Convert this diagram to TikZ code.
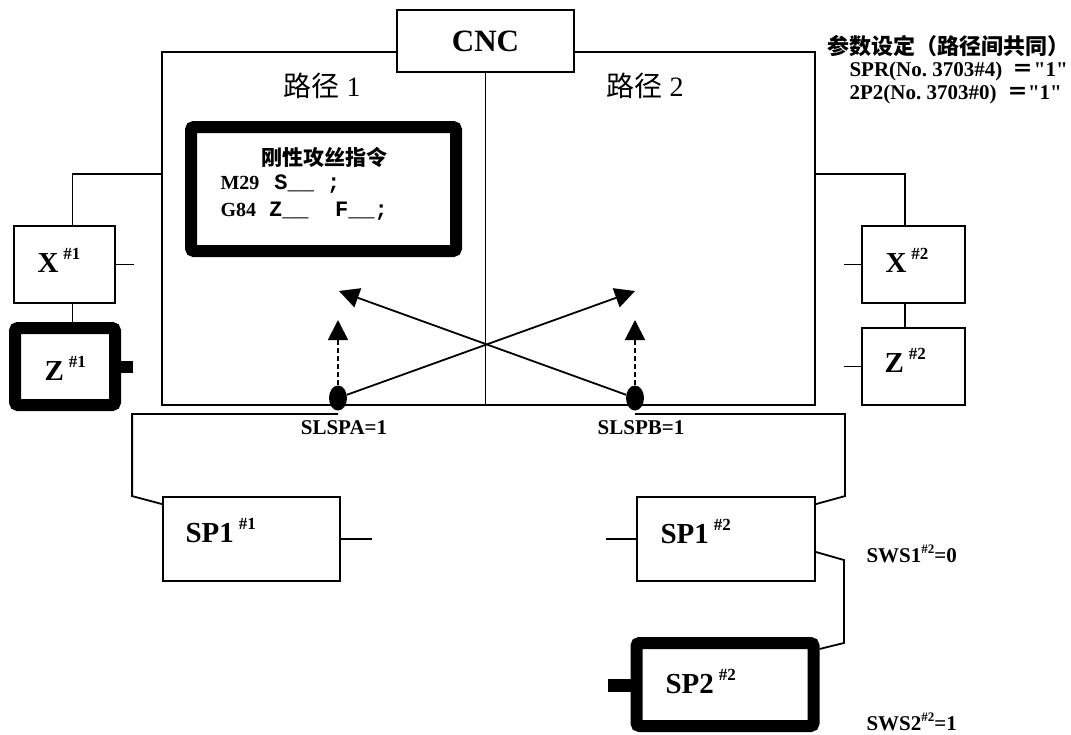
\documentclass[tikz,border=0pt]{standalone}
\usepackage{fontspec}
\setmainfont{Liberation Serif}[Ligatures=TeXOff]
\newfontfamily\cjk{Noto Sans CJK SC}
\newfontfamily\codefont{Liberation Mono}[Ligatures=TeXOff]
\usetikzlibrary{arrows.meta,positioning,shapes.geometric,calc}
\newcommand{\fsz}[1]{\fontsize{#1}{#1}\selectfont}
\newcommand{\chsup}[1]{\hspace{5pt}\raisebox{13pt}{\fsz{17}\##1}}
\newcommand{\sigsup}[1]{\raisebox{9pt}{\fsz{13}\##1}}

\begin{document}
\begin{tikzpicture}[x=1pt, y=-1pt,
  line/.style={line width=1.8pt},
  box/.style={draw, line width=1.8pt, inner sep=0pt, align=center},
  heavybox/.style={draw, line width=12pt, rounded corners=3pt, inner sep=0pt},
  tag/.style={font=\bfseries\fsz{29}},
  sig/.style={font=\bfseries\fsz{21}},
  sensor/.style={ellipse, fill=black, minimum width=18pt, minimum height=25pt, inner sep=0pt},
  arrowline/.style={line width=1.8pt, -{Triangle[length=20pt,width=20pt]}},
  dasharrow/.style={arrowline, dash pattern=on 5pt off 3pt}]
\useasboundingbox (0,0) rectangle (1071,734);
% CNC with its two paths
\node[box, minimum width=653pt, minimum height=353pt] (frame) at (488.5,228.5) {};
\node[box, fill=white, minimum width=177pt, minimum height=62pt, font=\bfseries\fsz{31}] (cnc) at (485.5,41) {CNC};
\draw[line] (cnc.south) -- (cnc.south |- frame.south);
\node[font=\fsz{28}] (path1) at (322,86) {{\cjk 路径} 1};
\node[font=\fsz{28}] (path2) at (645,86) {{\cjk 路径} 2};
% tapping command
\node[heavybox, minimum width=265pt, minimum height=124pt] (cmd) at (323.5,189) {};
\node[font=\cjk\bfseries\fsz{21}] (cmdtitle) at (324,157) {刚性攻丝指令};
\node[anchor=west, font=\bfseries\fsz{20}] (cmdm) at (217,184) {M29\hspace{15pt}{\codefont\fsz{22}S\_\_ ;}};
\node[anchor=west, font=\bfseries\fsz{20}] (cmdg) at (217,211) {G84\hspace{13pt}{\codefont\fsz{22}Z\_\_\ \ F\_\_;}};
% parameters
\node[anchor=west, font=\cjk\bfseries\fsz{22}] (parhead) at (824,46) {参数设定（路径间共同）};
\node[anchor=west, font=\bfseries\fsz{21}] (par1) at (846,71) {SPR(No.\ 3703\#4)\ \ {\cjk ＝}"1"};
\node[anchor=west, font=\bfseries\fsz{21}] (par2) at (846,94) {2P2(No.\ 3703\#0)\ \ {\cjk ＝}"1"};
% axes of path 1
\coordinate (armrow) at (0,174);
\node[box, minimum width=101pt, minimum height=77pt] (x1) at (64.5,264.5) {};
\node[tag, anchor=base west] (x1txt) at (34,272) {X\chsup{1}};
\node[heavybox, minimum width=100pt, minimum height=77pt] (z1) at (65,366.5) {};
\node[tag, anchor=base west] (z1txt) at (41,380) {Z\chsup{1}};
\fill ($(z1.east)+(0,-6)$) rectangle ++(12,12);
\draw[line] (x1.east) -- ++(18,0);
\draw[line] (frame.west |- armrow) -| ([xshift=8pt]x1.north);
\draw[line] ([xshift=8pt]x1.south) -- ([xshift=8pt]x1.south |- z1.north);
% axes of path 2
\node[box, minimum width=103pt, minimum height=77pt] (x2) at (913.5,264.5) {};
\node[tag, anchor=base west] (x2txt) at (882,272) {X\chsup{2}};
\node[box, minimum width=103pt, minimum height=77pt] (z2) at (913.5,366.5) {};
\node[tag, anchor=base west] (z2txt) at (881,372) {Z\chsup{2}};
\draw[line] (x2.west) -- ++(-17,0);
\draw[line] (z2.west) -- ++(-17,0);
\draw[line] (frame.east |- armrow) -| ([xshift=-8.5pt]x2.north);
\draw[line] ([xshift=-8.5pt]x2.south) -- ([xshift=-8.5pt]x2.south |- z2.north);
% spindle select signals
\node[sensor] (sa) at (338,398) {};
\node[sensor] (sb) at (635,398) {};
\coordinate (tipa) at (339,291);
\coordinate (tipb) at (635,291);
\coordinate (upa) at (338,320);
\coordinate (upb) at (635,320);
\draw[dasharrow] (sa) -- (upa);
\draw[dasharrow] (sb) -- (upb);
\draw[arrowline] (sa) -- (tipb);
\draw[arrowline] (sb) -- (tipa);
\node[sig] (slspa) at (344,428) {SLSPA=1};
\node[sig] (slspb) at (641,428) {SLSPB=1};
% spindles
\coordinate (busrow) at (0,414);
\node[box, minimum width=177pt, minimum height=84pt] (sp11) at (251.5,539) {};
\node[tag, anchor=base west] (sp11txt) at (182,542) {SP1\chsup{1}};
\node[box, minimum width=178pt, minimum height=84pt] (sp12) at (726,539) {};
\node[tag, anchor=base west] (sp12txt) at (657,543) {SP1\chsup{2}};
\node[heavybox, minimum width=177pt, minimum height=83pt] (sp2) at (725,684.5) {};
\node[tag, anchor=base west] (sp2txt) at (662,693) {SP2\chsup{2}};
\fill ([yshift=6pt]sp2.west) rectangle ++(-23,13);
\draw[line] (sp11.east) -- ++(31,0);
\draw[line] (sp12.west) -- ++(-30,0);
\draw[line] (sa |- busrow) -| ([xshift=-30pt]sp11.north west) -- ([yshift=-8pt]sp11.north west);
\draw[line] (sb |- busrow) -| ([xshift=29pt]sp12.north east) -- ([yshift=-8pt]sp12.north east);
\draw[line] ([yshift=-13pt]sp12.east) -- ++(28,8) -- ++(0,83) -- ([yshift=-12pt]sp2.north east);
\node[sig, anchor=base west] (sws1) at (863,562) {SWS1\sigsup{2}=0};
\node[sig, anchor=base west] (sws2) at (863,730) {SWS2\sigsup{2}=1};
\end{tikzpicture}
\end{document}
